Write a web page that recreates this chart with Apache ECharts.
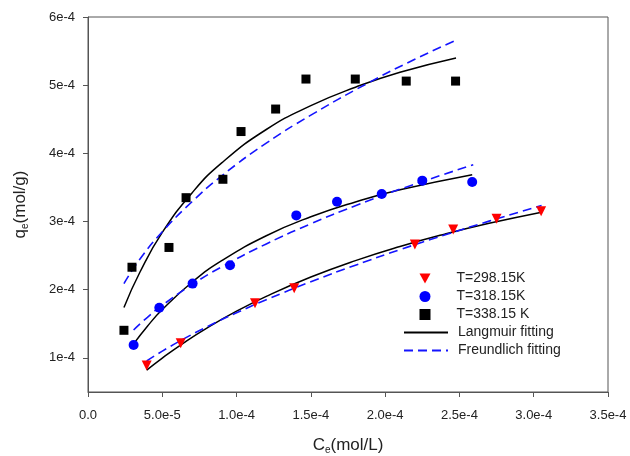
<!DOCTYPE html>
<html>
<head>
<meta charset="utf-8">
<title>Adsorption isotherms</title>
<script src="https://cdn.jsdelivr.net/npm/echarts@6/dist/echarts.min.js"></script>
<style>
	html, body { margin: 0; padding: 0; background: #fff; }
	#chart { width: 630px; height: 456px; }
</style>
</head>
<body>
<div id="chart"></div>
<script>
// Ce in 1e-5 mol/L, qe in 1e-4 mol/g (converted below)
var ce298 = [3.95, 6.24, 11.24, 13.88, 22.0, 24.58, 27.5, 30.5];
var qe298 = [0.89, 1.215, 1.80, 2.02, 2.665, 2.884, 3.04, 3.15];
var ce318 = [3.07, 4.8, 7.04, 9.56, 14.02, 16.76, 19.77, 22.5, 25.86];
var qe318 = [1.19, 1.735, 2.09, 2.358, 3.09, 3.29, 3.405, 3.60, 3.58];
var ce338 = [2.42, 2.96, 5.45, 6.6, 9.08, 10.3, 12.63, 14.67, 17.99, 21.42, 24.74];
var qe338 = [1.405, 2.33, 2.62, 3.35, 3.62, 4.32, 4.65, 5.09, 5.09, 5.06, 5.06];

// fitted curves
var langX338 = [2.42, 3.5, 5, 7, 9, 12, 15, 18, 21, 24.77];
var langY338 = [1.74, 2.26, 2.84, 3.42, 3.86, 4.35, 4.70, 4.97, 5.19, 5.40];
var frdX338 = [2.42, 3.5, 5, 7, 9, 12, 15, 18.75, 22, 24.77];
var frdY338 = [2.09, 2.45, 2.85, 3.29, 3.67, 4.15, 4.56, 5.02, 5.38, 5.66];
var langX318 = [3.07, 4, 5, 7, 9, 12, 15, 18, 21, 25.86];
var langY318 = [1.205, 1.465, 1.709, 2.110, 2.426, 2.792, 3.070, 3.288, 3.465, 3.687];
var frdX318 = [3.07, 4, 5, 7, 9, 12, 15, 18, 21, 25.93];
var frdY318 = [1.41, 1.596, 1.772, 2.075, 2.335, 2.672, 2.967, 3.232, 3.474, 3.833];
var langX298 = [3.95, 5, 6.5, 8, 10, 12, 15, 18, 21, 24, 27, 30.53];
var langY298 = [0.82, 0.998, 1.229, 1.437, 1.685, 1.903, 2.186, 2.427, 2.634, 2.815, 2.974, 3.137];
var frdX298 = [3.95, 5, 6.5, 8, 10, 12, 15, 18, 21, 24, 27, 30.53];
var frdY298 = [0.955, 1.099, 1.286, 1.455, 1.662, 1.853, 2.117, 2.36, 2.588, 2.802, 3.006, 3.234];

var xTicks = [0, 5e-5, 1e-4, 1.5e-4, 2e-4, 2.5e-4, 3e-4, 3.5e-4];
var yTicks = [1e-4, 2e-4, 3e-4, 4e-4, 5e-4, 6e-4];

var FONT = 'Liberation Sans, Arial, sans-serif';
var BLUE = '#1414ff';
var DOWN_TRIANGLE = 'path://M0,0 L10,0 L5,9 Z';

function pairs(xs, ys) {
	return xs.map(function(x, i) { return [x * 1e-5, ys[i] * 1e-4]; });
}

function fitLine(name, xs, ys, dashed) {
	return {
		name: name,
		type: 'line',
		data: pairs(xs, ys),
		smooth: true,
		symbol: 'none',
		z: 2,
		lineStyle: dashed
			? { color: BLUE, width: 1.6, type: [9, 5] }
			: { color: '#000', width: 1.5 },
		itemStyle: { color: dashed ? BLUE : '#000' }
	};
}

var axisName = {
	a: { fontFamily: FONT, fontSize: 17, color: '#222' },
	b: { fontFamily: FONT, fontSize: 10, color: '#222', padding: [9, 0, 0, 0] }
};

var chart = echarts.init(document.getElementById('chart'));
var option = {
	animation: false,
	textStyle: { fontFamily: FONT },
	grid: {
		left: 88, right: 22, top: 17, bottom: 64,
		outerBoundsMode: 'none',
		show: true, borderColor: '#555', borderWidth: 1
	},
	legend: [{
		orient: 'vertical',
		left: 414.5,
		top: 266.5,
		itemWidth: 11,
		itemHeight: 11,
		itemGap: 4,
		textStyle: { fontFamily: FONT, fontSize: 14, color: '#222', padding: [0, 0, 0, 21] },
		data: [
			{ name: 'T=298.15K', icon: DOWN_TRIANGLE },
			'T=318.15K',
			'T=338.15 K'
		]
	}, {
		orient: 'vertical',
		left: 398,
		top: 320.5,
		itemWidth: 44,
		itemHeight: 11,
		itemGap: 4,
		textStyle: { fontFamily: FONT, fontSize: 14, color: '#222', padding: [0, 0, 0, 5] },
		data: [
			{ name: 'Langmuir fitting', itemStyle: { opacity: 0 } },
			{ name: 'Freundlich fitting', itemStyle: { opacity: 0 } }
		]
	}],
	xAxis: {
		type: 'value',
		min: 0,
		max: 3.5e-4,
		name: '{a|C}{b|e}{a|(mol/L)}',
		nameLocation: 'middle',
		nameGap: 44,
		nameTextStyle: { rich: axisName },
		axisLine: { lineStyle: { color: '#555', width: 1 } },
		axisTick: { length: 5, lineStyle: { color: '#555' }, customValues: xTicks },
		axisLabel: {
			customValues: xTicks,
			margin: 17,
			fontSize: 13,
			color: '#222',
			formatter: function(v) { return v === 0 ? '0.0' : v.toExponential(1); }
		},
		splitLine: { show: false }
	},
	yAxis: {
		type: 'value',
		min: 0.5e-4,
		max: 6e-4,
		name: '{a|q}{b|e}{a|(mol/g)}',
		nameLocation: 'middle',
		nameGap: 58,
		nameTextStyle: { rich: axisName },
		axisLine: { show: true, lineStyle: { color: '#555', width: 1 } },
		axisTick: { show: true, length: 5, lineStyle: { color: '#555' }, customValues: yTicks },
		axisLabel: {
			customValues: yTicks,
			margin: 13,
			fontSize: 13,
			color: '#222',
			formatter: function(v) { return v.toExponential(0); }
		},
		splitLine: { show: false }
	},
	series: [
		fitLine('Langmuir fitting', langX338, langY338, false),
		fitLine('Freundlich fitting', frdX338, frdY338, true),
		fitLine('Langmuir fitting', langX318, langY318, false),
		fitLine('Freundlich fitting', frdX318, frdY318, true),
		fitLine('Langmuir fitting', langX298, langY298, false),
		fitLine('Freundlich fitting', frdX298, frdY298, true),
		{
			name: 'T=298.15K', type: 'scatter', z: 3,
			data: pairs(ce298, qe298),
			symbol: 'triangle', symbolRotate: 180, symbolSize: 10,
			itemStyle: { color: '#ff0000', opacity: 1 }
		},
		{
			name: 'T=318.15K', type: 'scatter', z: 3,
			data: pairs(ce318, qe318),
			symbol: 'circle', symbolSize: 10,
			itemStyle: { color: '#0000ff', opacity: 1 }
		},
		{
			name: 'T=338.15 K', type: 'scatter', z: 3,
			data: pairs(ce338, qe338),
			symbol: 'rect', symbolSize: 9,
			itemStyle: { color: '#000', opacity: 1 }
		}
	]
};
chart.setOption(option);
</script>
</body>
</html>
